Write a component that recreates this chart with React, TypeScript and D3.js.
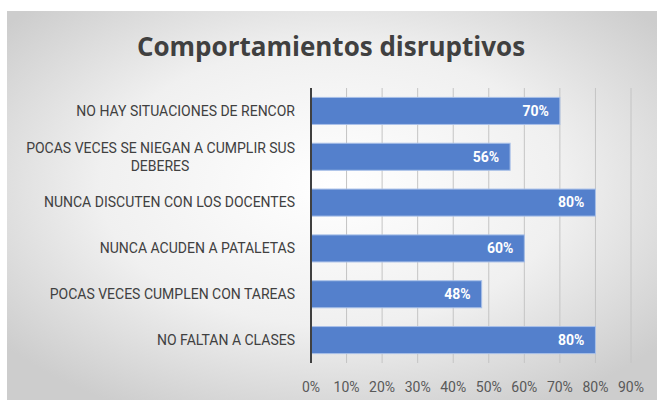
import React from "react";
import * as d3 from "d3";

const categories: string[][] = [
  ["NO HAY SITUACIONES DE RENCOR"],
  ["POCAS VECES SE NIEGAN A CUMPLIR SUS", "DEBERES"],
  ["NUNCA DISCUTEN CON LOS DOCENTES"],
  ["NUNCA ACUDEN A PATALETAS"],
  ["POCAS VECES CUMPLEN CON TAREAS"],
  ["NO FALTAN A CLASES"],
];
const values: number[] = [0.7, 0.56, 0.8, 0.6, 0.48, 0.8];
const tickValues: number[] = [0, 0.1, 0.2, 0.3, 0.4, 0.5, 0.6, 0.7, 0.8, 0.9];
const title = "Comportamientos disruptivos";

const W = 657;
const H = 400;

export default function App() {
  const x = d3.scaleLinear().domain([0, 0.9]).range([311, 631]);
  const y = d3
    .scaleBand<number>()
    .domain(d3.range(categories.length))
    .range([88, 363])
    .paddingInner(0.41)
    .paddingOuter(0.205);
  const fmt = d3.format(".0%");
  const font = "Roboto, 'Open Sans', sans-serif";
  const labelRight = 295;

  return (
    <svg
      width={W}
      height={H}
      style={{ position: "absolute", left: 0, top: 0 }}
    >
      <defs>
        <radialGradient id="bg" cx="50%" cy="45%" r="65%">
          <stop offset="0%" stopColor="#ffffff" />
          <stop offset="55%" stopColor="#f0f0f0" />
          <stop offset="100%" stopColor="#cdcdcd" />
        </radialGradient>
      </defs>
      <rect x={0} y={0} width={W} height={H} fill="#ffffff" />
      <rect x={7} y={11} width={W - 7} height={H - 11} fill="url(#bg)" />
      <text
        x={331}
        y={56}
        textAnchor="middle"
        fontFamily="'Open Sans', sans-serif"
        fontWeight="bold"
        fontSize={26}
        fill="#404040"
      >
        {title}
      </text>
      {tickValues.slice(1).map((t) => (
        <line
          key={"g" + t}
          x1={x(t)}
          x2={x(t)}
          y1={88}
          y2={363}
          stroke="#c4c4c4"
          strokeWidth={1}
        />
      ))}
      {values.map((v, i) => (
        <rect
          key={"b" + i}
          x={x(0)}
          y={y(i)}
          width={x(v) - x(0)}
          height={y.bandwidth()}
          fill="#5480cc"
          stroke="#a9c0e8"
          strokeWidth={1}
        />
      ))}
      {values.map((v, i) => (
        <text
          key={"v" + i}
          x={x(v) - 11}
          y={(y(i) as number) + y.bandwidth() / 2}
          dy="0.35em"
          textAnchor="end"
          fontFamily={font}
          fontWeight="bold"
          fontSize={14}
          fill="#ffffff"
        >
          {fmt(v)}
        </text>
      ))}
      <line x1={x(0)} x2={x(0)} y1={88} y2={363} stroke="#404040" strokeWidth={2} />
      {categories.map((lines, i) => {
        const cy = (y(i) as number) + y.bandwidth() / 2;
        const lh = 18;
        const start = cy - ((lines.length - 1) * lh) / 2;
        return (
          <g key={"c" + i}>
            {lines.map((l, j) => (
              <text
                key={j}
                x={j === 0 ? labelRight : 160}
                y={start + j * lh}
                dy="0.35em"
                textAnchor={j === 0 ? "end" : "middle"}
                fontFamily={font}
                fontSize={14}
                fill="#404040"
              >
                {l}
              </text>
            ))}
          </g>
        );
      })}
      {tickValues.map((t) => (
        <text
          key={"t" + t}
          x={x(t)}
          y={387}
          dy="0.35em"
          textAnchor="middle"
          fontFamily={font}
          fontSize={14}
          fill="#595959"
        >
          {fmt(t)}
        </text>
      ))}
    </svg>
  );
}
